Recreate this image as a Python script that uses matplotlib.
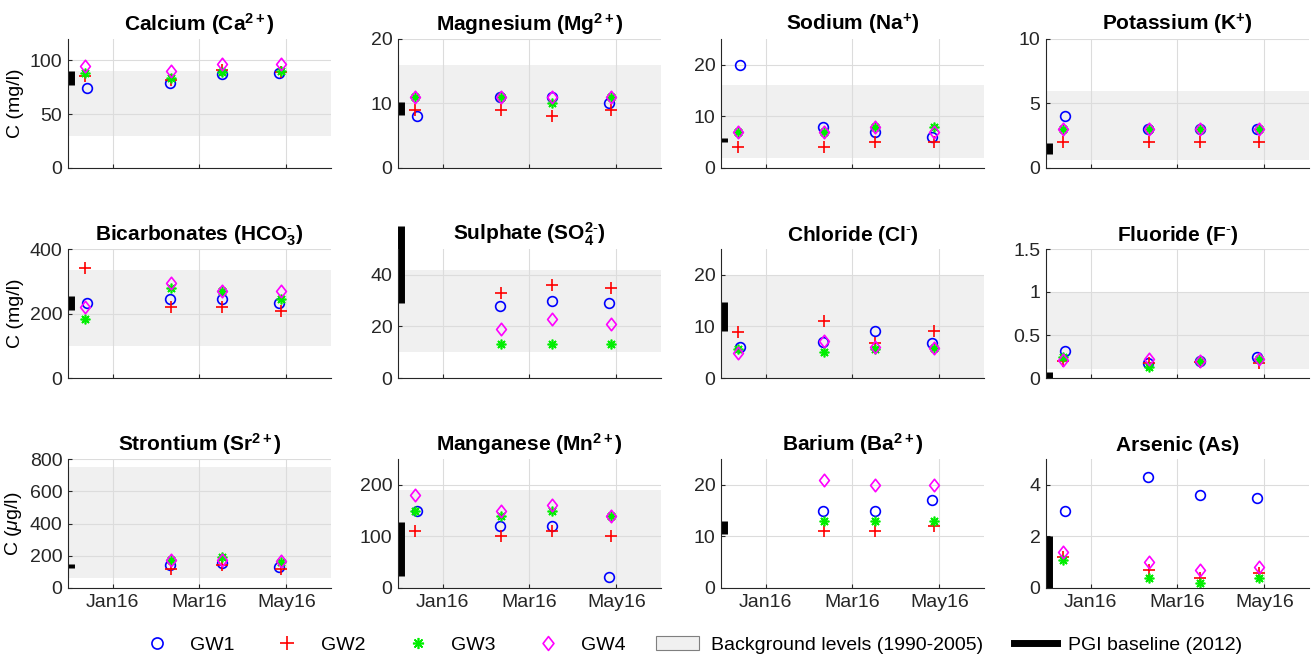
import numpy as np
import matplotlib.pyplot as plt
import matplotlib.dates as mdates
from matplotlib.patches import Patch
from matplotlib.lines import Line2D
from matplotlib.path import Path
from matplotlib.ticker import FormatStrFormatter
from datetime import datetime

plt.rcParams['font.family'] = ['Liberation Sans', 'DejaVu Sans']
plt.rcParams['mathtext.fontset'] = 'custom'
plt.rcParams['mathtext.rm'] = 'Liberation Sans'
plt.rcParams['mathtext.bf'] = 'Liberation Sans:bold'
plt.rcParams['mathtext.it'] = 'Liberation Sans:italic'

# sampling dates (GW1 sampled a day apart from the others)
dates_gw1 = [datetime(2015, 12, 14), datetime(2016, 2, 10), datetime(2016, 3, 17), datetime(2016, 4, 26)]
dates_gw = [datetime(2015, 12, 13), datetime(2016, 2, 11), datetime(2016, 3, 17), datetime(2016, 4, 27)]
baseline_date = datetime(2015, 12, 3)

titles = [r'Calcium (Ca$^{\mathbf{2+}}$)', r'Magnesium (Mg$^{\mathbf{2+}}$)', r'Sodium (Na$^{\mathbf{+}}$)',
          r'Potassium (K$^{\mathbf{+}}$)', r'Bicarbonates (HCO$_{\mathbf{3}}^{\mathbf{\text{-}}}$)',
          r'Sulphate (SO$_{\mathbf{4}}^{\mathbf{2\text{-}}}$)', r'Chloride (Cl$^{\mathbf{\text{-}}}$)',
          r'Fluoride (F$^{\mathbf{\text{-}}}$)', r'Strontium (Sr$^{\mathbf{2+}}$)',
          r'Manganese (Mn$^{\mathbf{2+}}$)', r'Barium (Ba$^{\mathbf{2+}}$)', 'Arsenic (As)']

nan = np.nan
gw1 = [[74, 79, 87, 88], [8, 11, 11, 10], [20, 8, 7, 6], [4, 3, 3, 3],
       [233, 245, 245, 232], [nan, 28, 30, 29], [6, 7, 9.2, 6.7], [0.31, 0.17, 0.2, 0.24],
       [nan, 140, 155, 130], [150, 120, 120, 22], [nan, 15, 15, 17], [3, 4.3, 3.6, 3.5]]
gw2 = [[86, 82, 91, 89], [9, 9, 8, 9], [4, 4, 5, 5], [2, 2, 2, 2],
       [340, 220, 220, 208], [nan, 33, 36, 35], [9, 11, 6.7, 9.2], [0.2, 0.17, 0.19, 0.18],
       [nan, 115, 140, 120], [110, 100, 110, 100], [nan, 11, 11, 12], [1.2, 0.7, 0.4, 0.6]]
gw3 = [[88, 84, 89, 90], [11, 11, 10, 11], [7, 7, 8, 8], [3, 3, 3, 3],
       [183, 280, 270, 245], [nan, 13, 13, 13], [5.7, 5, 5.7, 5.8], [0.25, 0.13, 0.2, 0.22],
       [nan, 175, 195, 160], [150, 140, 150, 140], [nan, 13, 13, 13], [1.1, 0.4, 0.2, 0.4]]
gw4 = [[95, 90, 97, 97], [11, 11, 11, 11], [7, 7, 8, 7], [3, 3, 3, 3],
       [220, 295, 270, 270], [nan, 19, 23, 21], [4.8, 7.2, 6, 5.8], [0.21, 0.22, 0.2, 0.22],
       [nan, 175, 175, 165], [180, 150, 160, 140], [nan, 21, 20, 20], [1.4, 1.0, 0.7, 0.8]]

# background levels (1990-2005), None = not available
background = [(30, 90), (0, 16), (2, 16), (0.6, 6),
              (100, 335), (10, 42), (0, 20), (0.1, 1.0),
              (60, 750), (0, 190), None, None]
# PGI baseline (2012) range
baseline = [(77, 90), (8.2, 10.2), (5, 5.8), (1.1, 1.9),
            (211, 254), (29, 59), (9.2, 14.7), (0, 0.07),
            (125, 150), (23, 128), (10.5, 13), (0, 2)]

ylims = [(0, 120), (0, 20), (0, 25), (0, 10),
         (0, 400), (0, 50), (0, 25), (0, 1.5),
         (0, 800), (0, 250), (0, 25), (0, 5)]
yticks = [[0, 50, 100], [0, 10, 20], [0, 10, 20], [0, 5, 10],
          [0, 200, 400], [0, 20, 40], [0, 10, 20], [0, 0.5, 1, 1.5],
          [0, 200, 400, 600, 800], [0, 100, 200], [0, 10, 20], [0, 2, 4]]
ylabels = ['C (mg/l)', '', '', '', 'C (mg/l)', '', '', '', r'C ($\mathit{\mu}$g/l)', '', '', '']

# MATLAB-like diamond (a bit taller than wide)
diamond = Path([(0, -1.15), (0.9, 0), (0, 1.15), (-0.9, 0), (0, -1.15)],
               [Path.MOVETO, Path.LINETO, Path.LINETO, Path.LINETO, Path.CLOSEPOLY])

fig = plt.figure(figsize=(13.13, 6.58), dpi=100)
W, H = 1313, 658
lefts = [68, 398, 721, 1046]
tops = [39, 249, 459]
aw, ah = 263, 129

for k in range(12):
    r, c = divmod(k, 4)
    ax = fig.add_axes([lefts[c] / W, 1 - (tops[r] + ah) / H, aw / W, ah / H])
    if background[k] is not None:
        ax.axhspan(background[k][0], background[k][1], color='#f0f0f0', zorder=0, lw=0)
    ax.plot(dates_gw1, gw1[k], 'o', mec='b', mfc='none', ms=7, mew=1.2, ls='none')
    ax.plot(dates_gw, gw2[k], '+', color='r', ms=9, mew=1.2, ls='none')
    ax.plot(dates_gw, gw3[k], marker=(8, 2, 0), color='#00ee00', ms=7, mew=1.2, ls='none')
    ax.plot(dates_gw, gw4[k], marker=diamond, mec='#ff00ff', mfc='none', ms=9, mew=1.2, ls='none')
    ax.plot([baseline_date, baseline_date], baseline[k], color='k', lw=5,
            solid_capstyle='butt', clip_on=False)
    ax.set_xlim(datetime(2015, 12, 1), datetime(2016, 6, 1))
    ax.set_ylim(*ylims[k])
    ax.set_yticks(yticks[k])
    ax.yaxis.set_major_formatter(FormatStrFormatter('%g'))
    ax.xaxis.set_major_locator(mdates.MonthLocator(bymonth=[1, 3, 5]))
    ax.xaxis.set_major_formatter(mdates.DateFormatter('%b%y'))
    if r < 2:
        ax.set_xticklabels([])
    ax.grid(True, color='#dcdcdc', lw=0.8)
    ax.set_axisbelow(True)
    for s in ['top', 'right']:
        ax.spines[s].set_visible(False)
    for s in ['left', 'bottom']:
        ax.spines[s].set_color('#262626')
    ax.tick_params(direction='in', length=3, labelsize=14, colors='#262626', pad=4)
    ax.set_title(titles[k], fontsize=15, fontweight='bold', pad=6)
    if ylabels[k]:
        ax.set_ylabel(ylabels[k], fontsize=14)

handles = [
    Line2D([], [], marker='o', mec='b', mfc='none', ms=8, mew=1.2, ls='none'),
    Line2D([], [], marker='+', color='r', ms=10, mew=1.2, ls='none'),
    Line2D([], [], marker=(8, 2, 0), color='#00ee00', ms=8, mew=1.2, ls='none'),
    Line2D([], [], marker=diamond, mec='#ff00ff', mfc='none', ms=10, mew=1.2, ls='none'),
    Patch(facecolor='#f0f0f0', edgecolor='#7f7f7f', lw=0.8),
    Line2D([], [], color='k', lw=5),
]
labels = ['GW1', 'GW2', 'GW3', 'GW4', 'Background levels (1990-2005)', 'PGI baseline (2012)']
fig.legend(handles, labels, loc='center', bbox_to_anchor=(0.525, 1 - 645 / H), ncol=6,
           frameon=False, fontsize=14, handlelength=2.2, columnspacing=1.6, handletextpad=0.6)

fig.savefig('out.png', dpi=100)
